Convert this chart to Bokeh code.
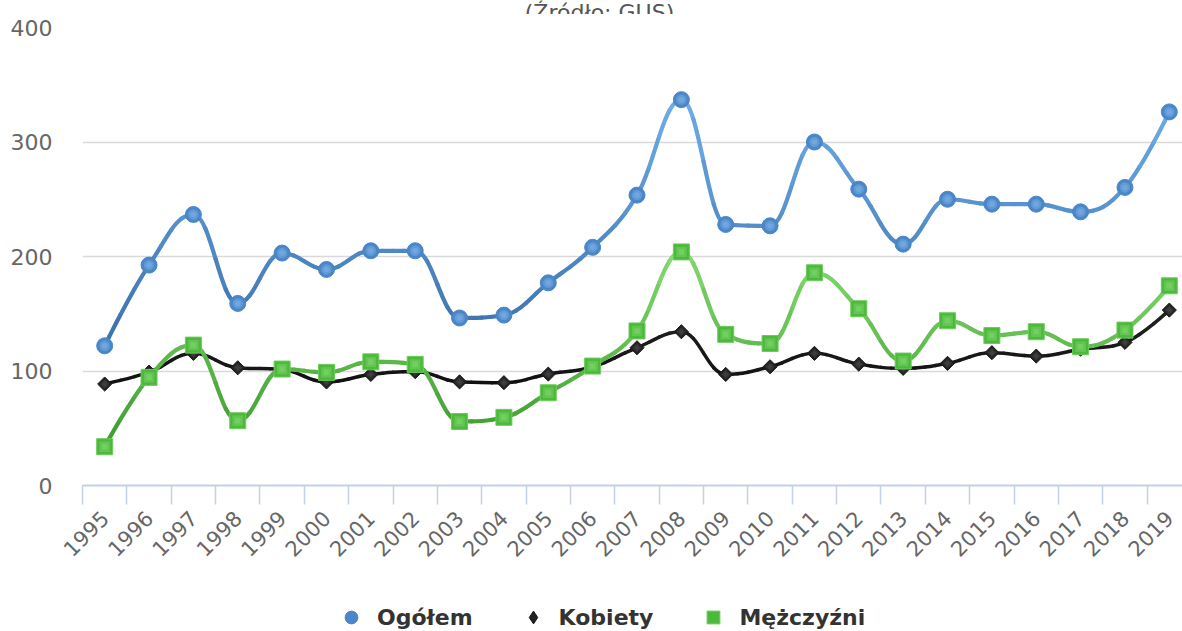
import math
import numpy as np
from bokeh.plotting import figure
from bokeh.layouts import column
from bokeh.models import Range1d, FixedTicker, Label, Legend, LegendItem, ColumnDataSource
from bokeh.embed import file_html
from bokeh.resources import INLINE

# ---------------- data ----------------
years = list(range(1995, 2020))
year_labels = [str(y) for y in years]
y_ticks = [0, 100, 200, 300, 400]
series_names = ["Ogółem", "Kobiety", "Mężczyźni"]
ogolem = [122, 192.5, 236.7, 159, 203, 188.7, 205, 205, 146.3, 148.8, 177, 208,
          253.6, 337, 228, 226.8, 300, 258.8, 210.8, 250, 245.7, 245.7, 239, 260.3, 326.3]
kobiety = [88.6, 99, 115.4, 102.8, 101.4, 90.4, 97, 99.4, 90.5, 89.8, 97.3, 103.7,
           120.3, 134.3, 97, 103.7, 115.4, 106, 102.3, 106.7, 116, 113, 119, 125, 153.2]
mezczyzni = [33.9, 94.4, 122.6, 56.6, 101.7, 98.8, 108, 105.8, 55.9, 59.5, 81, 104.3,
             135, 204, 132, 124, 185.8, 154.4, 108.7, 143.9, 131, 134.3, 121.2, 135.7, 174.4]
title_text = "(Źródło: GUS)"


# ---------------- helpers (Highcharts-like spline) ----------------
def spline_segments(xs, ys, smoothing=1.5):
    n = len(xs)
    denom = smoothing + 1
    lc = [None] * n
    rc = [None] * n
    for i in range(n):
        x, y = xs[i], ys[i]
        if 0 < i < n - 1:
            lx, ly = xs[i - 1], ys[i - 1]
            nx, ny = xs[i + 1], ys[i + 1]
            lcx = (smoothing * x + lx) / denom
            lcy = (smoothing * y + ly) / denom
            rcx = (smoothing * x + nx) / denom
            rcy = (smoothing * y + ny) / denom
            if rcx != lcx:
                corr = (rcy - lcy) * (rcx - x) / (rcx - lcx) + y - rcy
                lcy += corr
                rcy += corr
            if lcy > ly and lcy > y:
                lcy = max(ly, y); rcy = 2 * y - lcy
            elif lcy < ly and lcy < y:
                lcy = min(ly, y); rcy = 2 * y - lcy
            if rcy > ny and rcy > y:
                rcy = max(ny, y); lcy = 2 * y - rcy
            elif rcy < ny and rcy < y:
                rcy = min(ny, y); lcy = 2 * y - rcy
            lc[i] = (lcx, lcy)
            rc[i] = (rcx, rcy)
        else:
            lc[i] = (x, y)
            rc[i] = (x, y)
    return [((xs[i - 1], ys[i - 1]), rc[i - 1], lc[i], (xs[i], ys[i])) for i in range(1, n)]


def split(seg, t):
    p0, p1, p2, p3 = [np.array(p, dtype=float) for p in seg]
    a = p0 + (p1 - p0) * t
    b = p1 + (p2 - p1) * t
    c = p2 + (p3 - p2) * t
    d = a + (b - a) * t
    e = b + (c - b) * t
    f = d + (e - d) * t
    return (p0, a, d, f), (f, e, c, p3)


def subdivide(seg, k):
    out = []
    rest = seg
    for j in range(k, 1, -1):
        first, rest = split(rest, 1.0 / j)
        out.append(first)
    out.append(rest)
    return out


def hex2rgb(h):
    h = h.lstrip("#")
    return [int(h[i:i + 2], 16) for i in (0, 2, 4)]


def mix(c0, c1, f):
    a, b = hex2rgb(c0), hex2rgb(c1)
    f = min(max(f, 0.0), 1.0)
    return "#%02x%02x%02x" % tuple(int(round(a[i] + (b[i] - a[i]) * f)) for i in range(3))


def bezier_source(xs, ys, c_low, c_high, k=4):
    lo, hi = min(ys), max(ys)
    d = dict(x0=[], y0=[], x1=[], y1=[], cx0=[], cy0=[], cx1=[], cy1=[], color=[])
    for seg in spline_segments(xs, ys):
        for s in subdivide(seg, k):
            p0, p1, p2, p3 = s
            d["x0"].append(p0[0]); d["y0"].append(p0[1])
            d["cx0"].append(p1[0]); d["cy0"].append(p1[1])
            d["cx1"].append(p2[0]); d["cy1"].append(p2[1])
            d["x1"].append(p3[0]); d["y1"].append(p3[1])
            ym = (p0[1] + p3[1]) / 2.0
            d["color"].append(mix(c_low, c_high, (ym - lo) / (hi - lo) if hi > lo else 0))
    return ColumnDataSource(d)


def strip(height):
    f = figure(width=1182, height=height, output_backend="svg", toolbar_location=None,
               x_range=Range1d(82, 1182), y_range=Range1d(0, height),
               x_axis_type=None, y_axis_type=None,
               min_border_left=82, min_border_right=0, min_border_top=0, min_border_bottom=0)
    f.outline_line_color = None
    f.xgrid.visible = False
    f.ygrid.visible = False
    f.background_fill_color = "white"
    f.border_fill_color = "white"
    return f


# ---------------- title strip (only the lower part of the title shows) ----------------
pt = strip(14)
pt.add_layout(Label(x=599, y=2, text=title_text, text_align="center", text_baseline="alphabetic",
                    text_font="DejaVu Sans", text_font_size="22px", text_color="#555555"))

# ---------------- main figure ----------------
px_per_year = 44.36
frame_w = 1100
p = figure(width=1182, height=589, output_backend="svg", toolbar_location=None,
           x_range=Range1d(1994.5, 1994.5 + frame_w / px_per_year),
           y_range=Range1d(0, 400),
           min_border_left=82, min_border_right=0, min_border_top=13, min_border_bottom=118)
p.outline_line_color = None
p.background_fill_color = "white"
p.border_fill_color = "white"

# grids
p.xgrid.visible = False
p.ygrid.ticker = FixedTicker(ticks=y_ticks)
p.ygrid.grid_line_color = "#d9d9d9"
p.ygrid.grid_line_width = 1.5

# y axis
ya = p.yaxis[0]
ya.ticker = FixedTicker(ticks=y_ticks)
ya.axis_line_color = None
ya.major_tick_line_color = None
ya.minor_tick_line_color = None
ya.major_tick_out = 0
ya.major_tick_in = 0
ya.major_label_standoff = 30
ya.major_label_text_font = "DejaVu Sans"
ya.major_label_text_font_size = "22px"
ya.major_label_text_color = "#666666"

# x axis
xa = p.xaxis[0]
xa.ticker = FixedTicker(ticks=years, minor_ticks=[y - 0.5 for y in years] + [years[-1] + 0.5])
xa.major_label_overrides = {y: lab for y, lab in zip(years, year_labels)}
xa.axis_line_color = "#c3d1e3"
xa.axis_line_width = 2
xa.major_tick_line_color = None
xa.major_tick_out = 0
xa.major_tick_in = 0
xa.minor_tick_line_color = "#c3d1e3"
xa.minor_tick_line_width = 1.5
xa.minor_tick_out = 19
xa.minor_tick_in = 0
xa.major_label_orientation = math.pi / 4
xa.major_label_standoff = 10
xa.major_label_text_font = "DejaVu Sans"
xa.major_label_text_font_size = "21px"
xa.major_label_text_color = "#666666"

# ---------------- series ----------------
specs = [
    dict(vals=ogolem, low="#3a70ab", high="#6eaee8", width=4.2, marker="circle", size=16, angle=0,
         fill="#4a86c8", hl="#8fbff0", edge="#4a86c8", lmarker="circle"),
    dict(vals=kobiety, low="#111111", high="#222222", width=3.5, marker="square", size=10, angle=math.pi / 4,
         fill="#222222", hl="#555555", edge="#1a1a1a", lmarker="diamond"),
    dict(vals=mezczyzni, low="#3b9a2c", high="#86dc72", width=4.2, marker="square", size=16, angle=0,
         fill="#4cb83c", hl="#8fe07a", edge="#6ccc5a", lmarker="square"),
]

# legend strip under the chart
pl = strip(28)

legend_items = []
for name, s in zip(series_names, specs):
    src = bezier_source(years, s["vals"], s["low"], s["high"])
    p.bezier(x0="x0", y0="y0", x1="x1", y1="y1", cx0="cx0", cy0="cy0", cx1="cx1", cy1="cy1",
             source=src, line_color="color", line_width=s["width"], line_cap="round")
    p.scatter(years, s["vals"], marker=s["marker"], size=s["size"], angle=s["angle"],
              fill_color=s["fill"], line_color=s["edge"], line_width=1)
    p.scatter(years, s["vals"], marker=s["marker"], size=s["size"] * 0.65, angle=s["angle"],
              fill_color=s["hl"], fill_alpha=0.35, line_color=None)
    p.scatter(years, s["vals"], marker=s["marker"], size=s["size"] * 0.35, angle=s["angle"],
              fill_color=s["hl"], fill_alpha=0.35, line_color=None)
    # legend key renderer (its point lies outside the strip's visible range)
    lk = pl.scatter([-10], [-10], marker=s["lmarker"], size=12,
                    fill_color=s["fill"], line_color=s["edge"], line_width=1)
    legend_items.append(LegendItem(label=name, renderers=[lk]))

legend = Legend(items=legend_items, orientation="horizontal", location="left",
                glyph_width=32, glyph_height=32, label_height=22, label_standoff=10,
                spacing=44, padding=1, margin=253,
                label_text_font="DejaVu Sans", label_text_font_size="22px",
                label_text_font_style="bold", label_text_color="#333333",
                border_line_color=None, background_fill_alpha=0)
pl.add_layout(legend)

layout = column(pt, p, pl, spacing=0)
open("out.html", "w").write(file_html(layout, INLINE))
